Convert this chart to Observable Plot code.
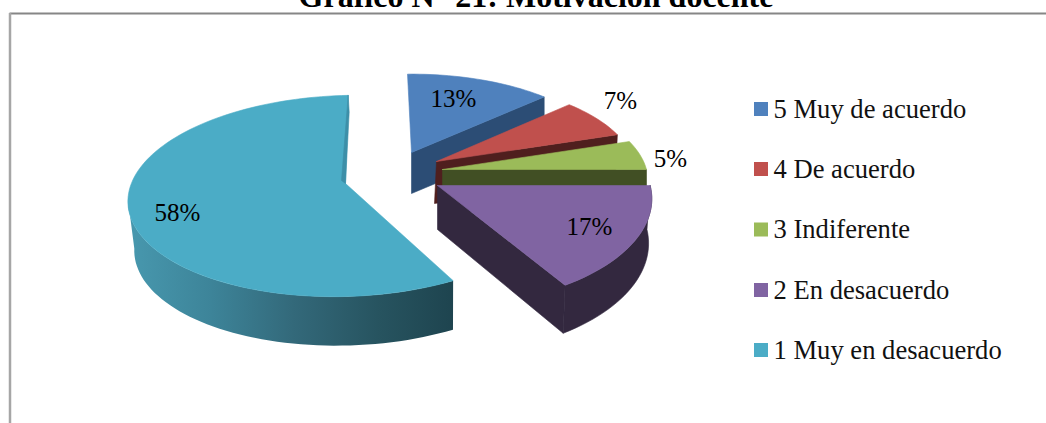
<!DOCTYPE html>
<html>
<head>
<meta charset="utf-8">
<style>html,body{margin:0;padding:0;background:#fff;overflow:hidden}svg{display:block}</style>
<script src="https://cdn.jsdelivr.net/npm/d3@7"></script>
<script src="https://cdn.jsdelivr.net/npm/@observablehq/plot@0.6"></script>
</head>
<body>
<div id="chart"></div>
<script>
// ---- data ----
const categories = ["5 Muy de acuerdo", "4 De acuerdo", "3 Indiferente", "2 En desacuerdo", "1 Muy en desacuerdo"];
const percents = [13, 7, 5, 17, 58];
const titleText = "Gráfico N° 21: Motivación docente";

// ---- styles ----
const topColors = ["#4f81bd", "#c0504d", "#9bbb59", "#8064a2", "#4bacc6"];
const wallColors = ["#2c4d75", "#4f1f1e", "#414f24", "#33283f", "#3d8fa8"];
const rimStops = [133, 210, 293, 377, 453];
const rimStopColors = ["#4797ad", "#3d8499", "#33697a", "#275460", "#1e444f"];
const serif = "'Liberation Serif', 'Times New Roman', serif";

// ---- layout of the exploded 3-D pie (projection, per-slice explosion) ----
const W = 1046, H = 423;
const RX = 217, RY = 99, PERSPECTIVE = 0.124;
const apexX = [411, 436, 442, 437, 345];
const apexY = [152, 161, 169, 185, 183];
const scaleX = [0.91, 0.91, 0.94, 0.98, 0.995];
const scaleY = [0.89, 0.91, 0.95, 1.07, 1];
const skewY = [0, 0, 0, 0, -0.025];
const nudgeStart = [-1.3, 0, 0, 0, 2.5];
const nudgeEnd = [0, 0, 0, -3.7, 0.8];
const depth = [41, 42, 42, 44, 49];
const bottomScaleX = [1, 1, 1, 0.985, 0.98];
const bottomScaleY = [1, 1, 1, 1.04, 1];
const bottomShiftX = [0, -2, 0, 0, 2];
const tealRimEndDeg = 264;
const labelX = [453, 620, 670, 589, 177];
const labelY = [106, 108, 166, 234, 220];
const legendSwatchX = 754, legendTextX = 773, legendSize = 14;
const legendY = [109, 169, 229.5, 290, 350];
const frameLeft = 9.5, frameTop = 13;

const rad = (d) => d * Math.PI / 180;
const arcs = d3.pie().sort(null).value((d) => d)(percents);

function rimPoint(i, theta) {
  const u = Math.sin(theta), v = -Math.cos(theta), w = 1 / (1 - PERSPECTIVE * v);
  const dx = RX * u * w * scaleX[i];
  return [apexX[i] + dx, apexY[i] + RY * v * w * scaleY[i] + skewY[i] * dx];
}
function toBottom(i, [x, y]) {
  return [
    apexX[i] + (x - apexX[i]) * bottomScaleX[i] + bottomShiftX[i],
    apexY[i] + (y - apexY[i]) * bottomScaleY[i] + depth[i]
  ];
}
function angleRange(from, to) {
  const n = Math.max(2, Math.ceil(Math.abs(to - from) / rad(2)));
  return d3.range(n + 1).map((k) => from + (to - from) * k / n);
}

const polys = [];
let pid = 0;
function addPoly(points, color, list = polys) {
  const id = pid++;
  [...points, points[0]].forEach(([x, y]) => list.push({id, x, y, color}));
}

const start = (i) => arcs[i].startAngle + rad(nudgeStart[i]);
const end = (i) => arcs[i].endAngle + rad(nudgeEnd[i]);
const apex = (i) => [apexX[i], apexY[i]];

// Painter's order: back slices first
[0, 1, 2].forEach((i) => {
  const corner = rimPoint(i, end(i));
  addPoly([apex(i), corner, toBottom(i, corner), toBottom(i, apex(i))], wallColors[i]);
  addPoly([apex(i), ...angleRange(start(i), end(i)).map((t) => rimPoint(i, t))], topColors[i]);
});

// Teal: shaded outer wall (its own layer, gradient fill) and top
const rimPoly = [];
{
  const i = 4;
  const ts = angleRange(start(i), rad(tealRimEndDeg));
  addPoly([...ts.map((t) => rimPoint(i, t)), ...ts.slice().reverse().map((t) => toBottom(i, rimPoint(i, t)))], "", rimPoly);
  addPoly([apex(i), ...angleRange(start(i), end(i)).map((t) => rimPoint(i, t))], topColors[i]);
  const c = rimPoint(i, end(i));
  addPoly([c, [apexX[i] - 4, apexY[i] - 3], apex(i), [c[0] + 1, c[1] + 17]], wallColors[i]);
}

// Purple: front slice
{
  const i = 3;
  const corner = rimPoint(i, end(i));
  const ts = angleRange(start(i), end(i));
  addPoly([...ts.map((t) => rimPoint(i, t)), ...ts.slice().reverse().map((t) => toBottom(i, rimPoint(i, t)))], wallColors[i]);
  addPoly([apex(i), corner, toBottom(i, corner), toBottom(i, apex(i))], wallColors[i]);
  addPoly([apex(i), ...ts.map((t) => rimPoint(i, t))], topColors[i]);
}

const legend = categories.map((name, i) => ({name, color: topColors[i], y: legendY[i]}));
const labels = percents.map((p, i) => ({text: `${p}%`, x: labelX[i], y: labelY[i]}));

// Gradient definition for the teal outer wall
function rimGradient() {
  const defs = d3.create("svg:defs");
  const g = defs.append("linearGradient").attr("id", "tealRim").attr("gradientUnits", "userSpaceOnUse")
    .attr("x1", rimStops[0]).attr("x2", rimStops[rimStops.length - 1]).attr("y1", 0).attr("y2", 0);
  rimStops.forEach((s, k) => g.append("stop")
    .attr("offset", (s - rimStops[0]) / (rimStops[rimStops.length - 1] - rimStops[0]))
    .attr("stop-color", rimStopColors[k]));
  return defs.node();
}

const plot = Plot.plot({
  width: W, height: H,
  marginTop: 0, marginRight: 0, marginBottom: 0, marginLeft: 0,
  style: {background: "#fff", overflow: "hidden"},
  x: {domain: [0, W], range: [0, W], axis: null},
  y: {domain: [0, H], range: [0, H], axis: null},
  color: {type: "identity"},
  marks: [
    rimGradient,
    Plot.ruleY([frameTop], {x1: frameLeft, x2: W, stroke: "#868686", strokeWidth: 2}),
    Plot.ruleX([frameLeft], {y1: frameTop, y2: H, stroke: "#a6a6a6", strokeWidth: 2.5}),
    Plot.line(rimPoly, {x: "x", y: "y", z: "id", fill: "url(#tealRim)", stroke: "none", curve: "linear"}),
    Plot.line(polys, {x: "x", y: "y", z: "id", fill: "color", stroke: "color", strokeWidth: 0.6, curve: "linear"}),
    Plot.text(labels, {x: "x", y: "y", text: "text", lineAnchor: "bottom", textAnchor: "middle", fontFamily: serif, fontSize: 25, fill: "#000"}),
    Plot.rect(legend, {x1: () => legendSwatchX, x2: () => legendSwatchX + legendSize, y1: (d) => d.y - legendSize / 2, y2: (d) => d.y + legendSize / 2, fill: "color"}),
    Plot.text(legend, {x: () => legendTextX, y: (d) => d.y + 8, text: "name", lineAnchor: "bottom", textAnchor: "start", fontFamily: serif, fontSize: 26.6, fill: "#111"}),
    Plot.text([titleText], {x: () => 535.5, y: () => 6, text: (d) => d, lineAnchor: "bottom", textAnchor: "middle", fontFamily: serif, fontWeight: "bold", fontSize: 32, fill: "#000"})
  ]
});
document.getElementById("chart").append(plot);
</script>
</body>
</html>
